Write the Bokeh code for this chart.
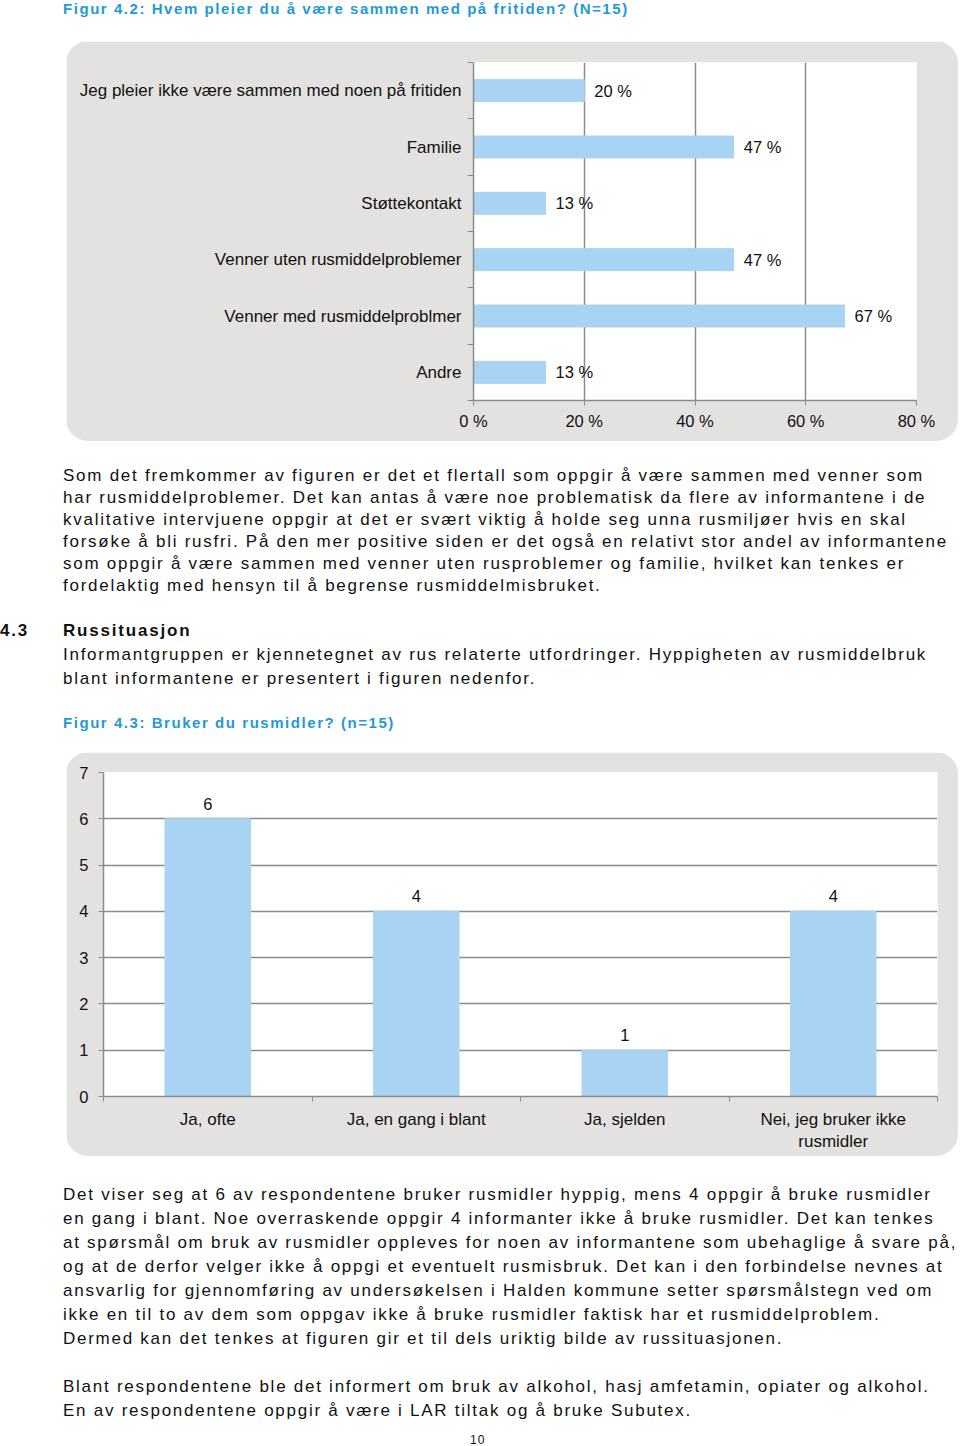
from bokeh.plotting import figure
from bokeh.models import Range1d, FixedTicker, PrintfTickFormatter, Div, Spacer
from bokeh.layouts import column, row
from bokeh.core.properties import value
from bokeh.embed import file_html
from bokeh.resources import INLINE

# ---------------- data ----------------
cats1 = ["Jeg pleier ikke være sammen med noen på fritiden", "Familie", "Støttekontakt",
         "Venner uten rusmiddelproblemer", "Venner med rusmiddelproblmer", "Andre"]
pct1 = [20, 47, 13, 47, 67, 13]
xticks1 = [0, 20, 40, 60, 80]

cats2 = ["Ja, ofte", "Ja, en gang i blant", "Ja, sjelden", "Nei, jeg bruker ikke\nrusmidler"]
counts2 = [6, 4, 1, 4]
yticks2 = [0, 1, 2, 3, 4, 5, 6, 7]

GREY = "#e3e2e0"
BAR = "#a8d3f3"
AX = "#8c8c8c"
BLUE = "#1f9ad6"
FONT = "Liberation Sans"

# ---------------- figure 4.2 ----------------
ypos1 = [i + 0.5 for i in range(len(cats1))]
p1 = figure(width=892, height=400, x_range=Range1d(0, 80), y_range=Range1d(len(cats1), 0),
            output_backend="svg", toolbar_location=None,
            min_border_left=407, min_border_right=42, min_border_top=21, min_border_bottom=41,
            background_fill_color="white", border_fill_color=GREY, outline_line_color=None)
p1.styles = {"border-radius": "22px", "overflow": "hidden"}
p1.hbar(y=ypos1, left=0, right=pct1, height=0.39, color=BAR)
p1.text(x=pct1, y=ypos1, text=[f"{v} %" for v in pct1], x_offset=10,
        text_baseline="middle", text_align="left", text_font=value(FONT),
        text_font_size="16.5px", text_color="#111111")
p1.xaxis.ticker = FixedTicker(ticks=xticks1)
p1.xaxis.formatter = PrintfTickFormatter(format="%d %%")
p1.yaxis.ticker = FixedTicker(ticks=ypos1, minor_ticks=list(range(len(cats1) + 1)))
p1.yaxis.major_label_overrides = {y: c for y, c in zip(ypos1, cats1)}
for ax in (p1.xaxis[0], p1.yaxis[0]):
    ax.axis_line_color = AX
    ax.axis_line_width = 1.5
    ax.major_tick_line_color = AX
    ax.minor_tick_line_color = AX
    ax.major_label_text_font = FONT
    ax.major_label_text_font_size = "17px"
    ax.major_label_text_color = "#111111"
p1.xaxis.major_label_text_font_size = "16.5px"
p1.xaxis.major_tick_out = 5
p1.xaxis.major_tick_in = 0
p1.xaxis.minor_tick_line_color = None
p1.xaxis.major_label_standoff = 6
p1.yaxis.major_tick_line_color = None
p1.yaxis.major_tick_out = 0
p1.yaxis.major_tick_in = 0
p1.yaxis.minor_tick_out = 6
p1.yaxis.minor_tick_in = 0
p1.yaxis.major_label_standoff = 6
p1.xgrid.grid_line_color = AX
p1.xgrid.grid_line_width = 1.5
p1.ygrid.grid_line_color = None

# ---------------- figure 4.3 ----------------
xpos2 = [i + 0.5 for i in range(len(cats2))]
p2 = figure(width=892, height=404, x_range=Range1d(0, len(cats2)), y_range=Range1d(0, 7),
            output_backend="svg", toolbar_location=None,
            min_border_left=37, min_border_right=21, min_border_top=20, min_border_bottom=60,
            background_fill_color="white", border_fill_color=GREY, outline_line_color=None)
p2.styles = {"border-radius": "22px", "overflow": "hidden"}
p2.vbar(x=xpos2, bottom=0, top=counts2, width=0.41, color=BAR)
p2.text(x=xpos2, y=counts2, text=[str(v) for v in counts2], y_offset=-15,
        text_baseline="middle", text_align="center", text_font=value(FONT),
        text_font_size="16.5px", text_color="#111111")
p2.yaxis.ticker = FixedTicker(ticks=yticks2)
p2.xaxis.ticker = FixedTicker(ticks=xpos2, minor_ticks=list(range(len(cats2) + 1)))
p2.xaxis.major_label_overrides = {x: c for x, c in zip(xpos2, cats2)}
for ax in (p2.xaxis[0], p2.yaxis[0]):
    ax.axis_line_color = AX
    ax.axis_line_width = 1.5
    ax.major_tick_line_color = AX
    ax.minor_tick_line_color = AX
    ax.major_label_text_font = FONT
    ax.major_label_text_font_size = "17px"
    ax.major_label_text_color = "#111111"
p2.yaxis.major_label_text_font_size = "16.5px"
p2.yaxis.major_tick_out = 5
p2.yaxis.major_tick_in = 0
p2.yaxis.minor_tick_line_color = None
p2.yaxis.major_label_standoff = 10
p2.xaxis.major_tick_line_color = None
p2.xaxis.major_tick_out = 0
p2.xaxis.major_tick_in = 0
p2.xaxis.minor_tick_out = 5
p2.xaxis.minor_tick_in = 0
p2.xaxis.major_label_standoff = 8
p2.ygrid.grid_line_color = AX
p2.ygrid.grid_line_width = 1.5
p2.xgrid.grid_line_color = None

# ---------------- text blocks ----------------
FAM = "font-family:'Liberation Sans',Arial,sans-serif;"
BODY = FAM + "font-size:17px;letter-spacing:1.74px;color:#111;white-space:nowrap;"
HEAD = FAM + "font-weight:bold;color:%s;white-space:nowrap;" % BLUE
W = 958


def block(left, top, lh, lines, extra=""):
    return ('<div style="position:absolute;left:%dpx;top:%dpx;line-height:%dpx;%s%s">%s</div>'
            % (left, top, lh, BODY, extra, "<br>".join(lines)))


def wrap(h, inner):
    return '<div style="position:relative;width:%dpx;height:%dpx;">%s</div>' % (W, h, inner)


TX = 63

divA = Div(width=W, height=41, margin=0, text=wrap(41,
    '<div style="position:absolute;left:%dpx;top:0px;line-height:18px;font-size:15px;'
    'letter-spacing:1.55px;%s">Figur 4.2: Hvem pleier du å være sammen med på fritiden? (N=15)</div>'
    % (TX, HEAD)))

p1_lines = [
    "Som det fremkommer av figuren er det et flertall som oppgir å være sammen med venner som",
    "har rusmiddelproblemer. Det kan antas å være noe problematisk da flere av informantene i de",
    "kvalitative intervjuene oppgir at det er svært viktig å holde seg unna rusmiljøer hvis en skal",
    "forsøke å bli rusfri. På den mer positive siden er det også en relativt stor andel av informantene",
    "som oppgir å være sammen med venner uten rusproblemer og familie, hvilket kan tenkes er",
    "fordelaktig med hensyn til å begrense rusmiddelmisbruket.",
]
intro_lines = [
    "Informantgruppen er kjennetegnet av rus relaterte utfordringer. Hyppigheten av rusmiddelbruk",
    "blant informantene er presentert i figuren nedenfor.",
]
BOLDH = FAM + "font-size:17px;letter-spacing:1.8px;font-weight:bold;color:#111;white-space:nowrap;"
innerB = (block(TX, 24, 22, p1_lines)
          + '<div style="position:absolute;left:0px;top:178px;line-height:24px;%s">4.3</div>' % BOLDH
          + '<div style="position:absolute;left:%dpx;top:178px;line-height:24px;%s">Russituasjon</div>'
            % (TX, BOLDH)
          + block(TX, 202, 24, intro_lines)
          + '<div style="position:absolute;left:%dpx;top:273px;line-height:18px;font-size:15px;'
            'letter-spacing:1.55px;%s">Figur 4.3: Bruker du rusmidler? (n=15)</div>' % (TX, HEAD))
divB = Div(width=W, height=311, margin=0, text=wrap(311, innerB))

p2_lines = [
    "Det viser seg at 6 av respondentene bruker rusmidler hyppig, mens 4 oppgir å bruke rusmidler",
    "en gang i blant. Noe overraskende oppgir 4 informanter ikke å bruke rusmidler. Det kan tenkes",
    "at spørsmål om bruk av rusmidler oppleves for noen av informantene som ubehaglige å svare på,",
    "og at de derfor velger ikke å oppgi et eventuelt rusmisbruk. Det kan i den forbindelse nevnes at",
    "ansvarlig for gjennomføring av undersøkelsen i Halden kommune setter spørsmålstegn ved om",
    "ikke en til to av dem som oppgav ikke å bruke rusmidler faktisk har et rusmiddelproblem.",
    "Dermed kan det tenkes at figuren gir et til dels uriktig bilde av russituasjonen.",
]
p3_lines = [
    "Blant respondentene ble det informert om bruk av alkohol, hasj amfetamin, opiater og alkohol.",
    "En av respondentene oppgir å være i LAR tiltak og å bruke Subutex.",
]
innerC = (block(TX, 27, 24, p2_lines)
          + block(TX, 219, 24, p3_lines)
          + '<div style="position:absolute;left:470px;top:277px;line-height:14px;font-size:12px;'
            + FAM + 'color:#111;letter-spacing:1px;">10</div>')
divC = Div(width=W, height=288, margin=0, text=wrap(288, innerC))

layout = column(
    divA,
    row(Spacer(width=66, height=400, margin=0), p1, spacing=0),
    divB,
    row(Spacer(width=66, height=404, margin=0), p2, spacing=0),
    divC,
    spacing=0,
)

open("out.html", "w").write(file_html(layout, INLINE))
